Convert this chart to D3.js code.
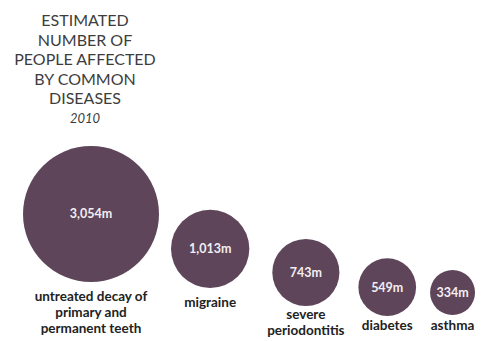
<!DOCTYPE html>
<html>
<head>
<meta charset="utf-8">
<script src="https://cdn.jsdelivr.net/npm/d3@7"></script>
<style>
  html, body { margin: 0; padding: 0; background: #ffffff; }
  svg { display: block; }
</style>
</head>
<body>
<svg id="chart" width="492" height="341"></svg>
<script>
// ---- data ----
const categories = [
  ["untreated decay of", "primary and", "permanent teeth"],
  ["migraine"],
  ["severe", "periodontitis"],
  ["diabetes"],
  ["asthma"]
];
const values = [3054, 1013, 743, 549, 334];           // millions
const valueLabels = ["3,054m", "1,013m", "743m", "549m", "334m"];
const titleLines = ["ESTIMATED", "NUMBER OF", "PEOPLE AFFECTED", "BY COMMON", "DISEASES"];
const subtitle = "2010";

// ---- layout ----
const startX = 23;                          // left edge of first circle
const gaps = [0, 12, 23, 19, 14];           // horizontal gap before each circle
const bottoms = [282, 288, 306, 316, 315];  // bottom edge of each circle
const labelOffsets = [19, 19, 13, 14, 15];  // first label baseline below circle
const color = "#5e4559";
const font = "Lato, 'Open Sans', sans-serif";

const svg = d3.select("#chart");

const r = d3.scaleSqrt().domain([0, d3.max(values)]).range([0, 68]);

// compute circle centers
const nodes = [];
let x = startX;
values.forEach((v, i) => {
  const rad = r(v);
  x += gaps[i];
  const cx = x + rad;
  x = cx + rad;
  nodes.push({ i, v, rad, cx, cy: bottoms[i] - rad, label: categories[i], vl: valueLabels[i] });
});

// title
const title = svg.append("text")
  .attr("text-anchor", "middle")
  .attr("font-family", font)
  .attr("font-size", 16)
  .attr("fill", "#3d3d3d");
titleLines.forEach((t, k) => {
  title.append("tspan").attr("x", 85).attr("y", 26 + k * 19.6).text(t);
});
svg.append("text")
  .attr("x", 85).attr("y", 123)
  .attr("text-anchor", "middle")
  .attr("font-family", font)
  .attr("font-style", "italic")
  .attr("font-size", 13)
  .attr("fill", "#3d3d3d")
  .text(subtitle);

const g = svg.selectAll("g.node").data(nodes).join("g").attr("class", "node");

g.append("circle")
  .attr("cx", d => d.cx)
  .attr("cy", d => d.cy)
  .attr("r", d => d.rad)
  .attr("fill", color);

g.append("text")
  .attr("x", d => d.cx)
  .attr("y", d => d.cy)
  .attr("dy", "0.35em")
  .attr("text-anchor", "middle")
  .attr("font-family", font)
  .attr("font-weight", "bold")
  .attr("font-size", 12.5)
  .attr("fill", "#f2eef1")
  .text(d => d.vl);

g.each(function(d) {
  const t = d3.select(this).append("text")
    .attr("text-anchor", "middle")
    .attr("font-family", font)
    .attr("font-weight", "bold")
    .attr("font-size", 13.5)
    .attr("fill", "#222222");
  d.label.forEach((line, k) => {
    t.append("tspan")
      .attr("x", d.cx)
      .attr("y", d.cy + d.rad + labelOffsets[d.i] + k * 16)
      .text(line);
  });
});
</script>
</body>
</html>
